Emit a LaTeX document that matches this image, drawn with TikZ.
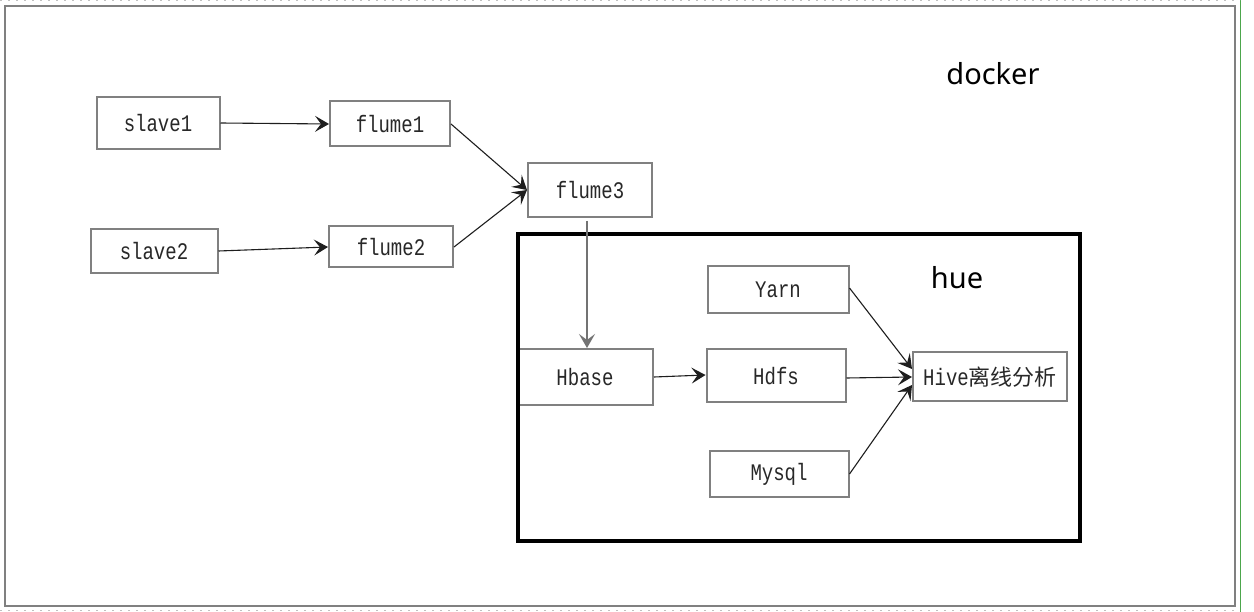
\documentclass[tikz,border=0pt]{standalone}
\usepackage{fontspec}
\setmainfont{Liberation Mono}
\newfontfamily\labelsans{Noto Sans}
\newfontfamily\cjkfont{Noto Sans CJK SC}
\usetikzlibrary{arrows.meta}
\definecolor{boxgray}{RGB}{128,128,128}
\definecolor{txtgray}{RGB}{40,40,40}
\definecolor{linegray}{RGB}{30,30,30}
\newcommand{\tall}[1]{\scalebox{1}[1.25]{#1}}
\tikzset{
  box/.style={draw=boxgray, line width=2pt, fill=white, inner sep=0pt, text=txtgray,
    font=\fontsize{19}{19}\selectfont},
  conn/.style={draw=linegray, line width=1.1pt, -{Stealth[length=14pt,width=16pt,inset=6pt]}},
  bigtxt/.style={font=\labelsans\fontsize{29}{29}\selectfont, text=black, inner sep=0pt}
}
\begin{document}
\begin{tikzpicture}[x=1pt,y=-1pt]
\useasboundingbox (0,0) rectangle (1254,612);
\fill[white] (0,0) rectangle (1254,612);
% page edges
\draw[green!50!black!70, line width=1pt] (1240,0) -- (1240,612);
\draw[boxgray!50, line width=1pt, dash pattern=on 2pt off 6pt] (0,1) -- (1240,1);
\draw[boxgray!50, line width=1pt, dash pattern=on 2pt off 6pt] (0,610) -- (1240,610);
% outer docker frame
\draw[boxgray, line width=2.5pt] (5,6) rectangle (1235,606);
\node[bigtxt] (docker) at (993,74) {docker};
\node[bigtxt] (huelbl) at (957,278) {hue};
% nodes
\node[box, minimum width=123pt, minimum height=52pt] (slave1) at (158,123) {\tall{slave1}};
\node[box, minimum width=120pt, minimum height=45pt] (flume1) at (390,124) {\tall{flume1}};
\node[box, minimum width=127pt, minimum height=44pt] (slave2) at (154,251) {\tall{slave2}};
\node[box, minimum width=124pt, minimum height=41pt] (flume2) at (391,247) {\tall{flume2}};
\node[box, minimum width=124pt, minimum height=54pt] (flume3) at (590,190) {\tall{flume3}};
\node[box, minimum width=141pt, minimum height=47pt] (yarn) at (778,290) {\tall{Yarn}};
\node[box, minimum width=136pt, minimum height=56pt] (hbase) at (585,377) {\tall{Hbase}};
\node[box, minimum width=139pt, minimum height=53pt] (hdfs) at (776,376) {\tall{Hdfs}};
\node[box, minimum width=139pt, minimum height=46pt] (mysql) at (779,474) {\tall{Mysql}};
\node[box, minimum width=154pt, minimum height=49pt] (hive) at (990,377) {\tall{Hive}{\cjkfont\fontsize{22}{22}\selectfont 离线分析}};
% hue frame
\node[draw=black, line width=4pt, inner sep=0pt, minimum width=562pt, minimum height=307pt] (hue) at (799,387.5) {};
% connectors
\draw[conn] (slave1.east) -- (flume1.west);
\draw[conn] (flume1.east) -- (flume3.west);
\draw[conn] (flume2.east) -- (flume3.west);
\draw[conn] (slave2.east) -- (flume2.west);
\draw[conn, draw=boxgray!90!black] ([xshift=-3pt,yshift=-3pt]flume3.south) -- ([xshift=2pt]hbase.north);
\draw[conn] (hbase.east) -- ([yshift=1pt]hdfs.west);
\draw[conn] ([yshift=2pt]yarn.east) -- ([yshift=8pt]hive.west);
\draw[conn] ([yshift=-2pt]hdfs.east) -- (hive.west);
\draw[conn] (mysql.east) -- ([yshift=-8pt]hive.west);
\end{tikzpicture}
\end{document}
